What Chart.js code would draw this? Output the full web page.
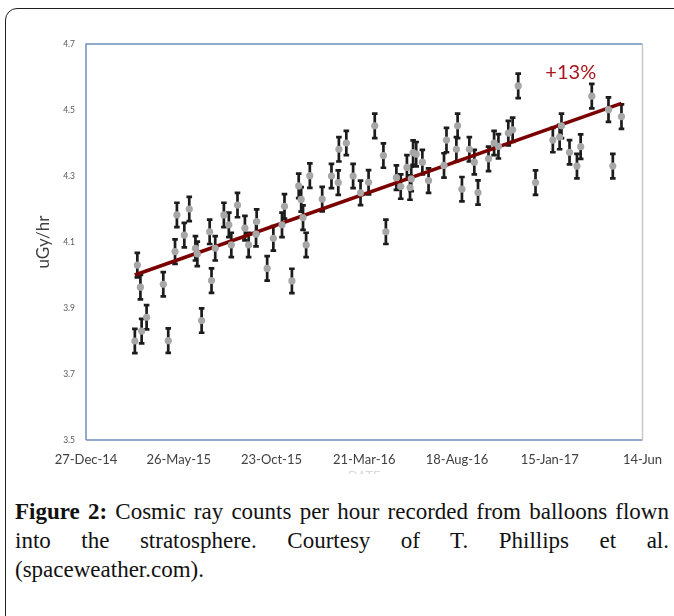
<!DOCTYPE html>
<html>
<head>
<meta charset="utf-8">
<script src="https://cdn.jsdelivr.net/npm/chart.js@4/dist/chart.umd.min.js"></script>
<style>
  html, body { margin: 0; padding: 0; background: #ffffff; }
  body { width: 674px; height: 616px; position: relative; overflow: hidden; }
  #frame { position: absolute; left: 5px; top: 8px; width: 720px; height: 700px;
           border: 1.5px solid #1f1f1f; border-radius: 12px; box-sizing: border-box; }
  #chartWrap { position: absolute; left: 0; top: 0; width: 674px; height: 474px; overflow: hidden; }
  #chartBox { position: relative; width: 674px; height: 490px; }
  #caption { position: absolute; left: 15px; top: 497px; width: 654px;
             font-family: "Liberation Serif", "Times New Roman", serif; font-size: 23px;
             line-height: 29px; color: #111; }
  #caption .j { text-align: justify; text-align-last: justify; white-space: nowrap; }
  #caption .l { text-align: left; white-space: nowrap; }
</style>
</head>
<body>
<div id="frame"></div>
<div id="chartWrap"><div id="chartBox"><canvas id="c"></canvas></div></div>
<div id="caption">
  <div class="j"><b>Figure 2:</b> Cosmic ray counts per hour recorded from balloons flown</div>
  <div class="j">into the stratosphere. Courtesy of T. Phillips et al.</div>
  <div class="l">(spaceweather.com).</div>
</div>
<script>
// ---- data (days since 27-Dec-2014, dose rate in uGy/hr) ----
const flightDay = [79,83,88,90,98,125,133,144,147,159,167,177,180,187,200,203,209,223,231,235,
  245,257,263,275,276,293,303,317,321,333,344,348,351,356,362,382,397,408,409,421,
  432,444,457,467,481,485,502,509,519,524,526,529,534,544,554,579,583,599,601,608,
  620,628,634,651,660,667,683,690,699,727,755,766,769,782,794,800,818,845,852,866];
const doseRate = [3.800,4.030,3.963,3.830,3.872,3.972,3.801,4.071,4.182,4.121,4.200,4.081,4.064,3.862,4.131,3.983,4.081,4.182,4.152,4.091,
  4.212,4.142,4.091,4.124,4.162,4.020,4.111,4.152,4.208,3.982,4.270,4.229,4.174,4.091,4.301,4.230,4.300,4.280,4.381,4.400,
  4.300,4.249,4.281,4.452,4.362,4.131,4.295,4.268,4.326,4.265,4.291,4.371,4.366,4.342,4.286,4.332,4.409,4.381,4.452,4.260,
  4.381,4.342,4.250,4.352,4.400,4.390,4.430,4.440,4.573,4.280,4.409,4.418,4.452,4.372,4.330,4.389,4.542,4.501,4.330,4.480];
const errorHalf = 0.037;
const trendDay = [79, 866];
const trendValue = [4.00, 4.52];
const trendLabel = '+13%';
const trendLabelAt = [784, 4.615];
const xTickDays = [0,150,300,450,600,750,900];
const xTickLabels = ['27-Dec-14','26-May-15','23-Oct-15','21-Mar-16','18-Aug-16','15-Jan-17','14-Jun'];
const yTickValues = [3.5,3.7,3.9,4.1,4.3,4.5,4.7];
const yTickLabels = ['3.5','3.7','3.9','4.1','4.3','4.5','4.7'];

const points = flightDay.map((d, i) => ({x: d, y: doseRate[i]}));
const trend = trendDay.map((d, i) => ({x: d, y: trendValue[i]}));

const errorBars = {
  id: 'errorBars',
  beforeDatasetsDraw(chart) {
    const xs = chart.scales.x, ys = chart.scales.y, ctx = chart.ctx;
    ctx.save();
    ctx.strokeStyle = '#1c1c1c';
    ctx.lineWidth = 2.7;
    points.forEach(p => {
      const px = xs.getPixelForValue(p.x);
      const top = ys.getPixelForValue(p.y + errorHalf);
      const bot = ys.getPixelForValue(p.y - errorHalf);
      ctx.beginPath();
      ctx.moveTo(px, top); ctx.lineTo(px, bot);
      ctx.moveTo(px - 2.8, top); ctx.lineTo(px + 2.8, top);
      ctx.moveTo(px - 2.8, bot); ctx.lineTo(px + 2.8, bot);
      ctx.stroke();
    });
    ctx.restore();
  }
};

const frameAndLabel = {
  id: 'frameAndLabel',
  afterDatasetsDraw(chart) {
    const {left, right, top, bottom} = chart.chartArea;
    const ctx = chart.ctx;
    ctx.save();
    ctx.lineWidth = 1.5;
    ctx.strokeStyle = '#6d8ebf';
    ctx.beginPath();
    ctx.moveTo(left, bottom); ctx.lineTo(left, top); ctx.lineTo(right, top);
    ctx.moveTo(left, bottom); ctx.lineTo(right, bottom);
    ctx.stroke();
    ctx.strokeStyle = '#c8c8c8';
    ctx.beginPath();
    ctx.moveTo(right, top); ctx.lineTo(right, bottom);
    ctx.stroke();
    const lx = chart.scales.x.getPixelForValue(trendLabelAt[0]);
    const ly = chart.scales.y.getPixelForValue(trendLabelAt[1]);
    ctx.fillStyle = '#a8161c';
    ctx.font = '20px Lato';
    ctx.textAlign = 'center';
    ctx.textBaseline = 'middle';
    ctx.fillText(trendLabel, lx, ly);
    ctx.restore();
  }
};

new Chart(document.getElementById('c'), {
  type: 'scatter',
  data: {
    datasets: [
      { type: 'line', label: 'trend', data: trend, borderColor: '#7a0000', borderWidth: 3.5,
        pointRadius: 0, fill: false, order: 2 },
      { label: 'dose', data: points, pointRadius: 3.6, pointHoverRadius: 3.6,
        backgroundColor: '#a7a7a7', borderWidth: 0, order: 1 }
    ]
  },
  options: {
    responsive: true,
    maintainAspectRatio: false,
    animation: false,
    events: [],
    layout: { padding: { top: 44, right: 26, left: 0, bottom: 0 } },
    plugins: { legend: { display: false }, tooltip: { enabled: false } },
    scales: {
      x: {
        type: 'linear', min: 0, max: 900,
        afterBuildTicks(s) { s.ticks = xTickDays.map(v => ({value: v})); },
        afterFit(s) { s.height = 50; },
        grid: { display: false, drawTicks: false },
        border: { display: false },
        ticks: { autoSkip: false, maxRotation: 0, padding: 12, color: '#404040',
                 font: { family: 'Lato', size: 13 },
                 callback: (v, i) => xTickLabels[i] },
        title: { display: true, text: 'DATE', color: '#dadada',
                 font: { family: 'Lato', size: 13 }, padding: { top: 0, bottom: 5 } }
      },
      y: {
        type: 'linear', min: 3.5, max: 4.7,
        afterBuildTicks(s) { s.ticks = yTickValues.map(v => ({value: v})); },
        afterFit(s) { s.width = 86; },
        grid: { display: false, drawTicks: false },
        border: { display: false },
        ticks: { padding: 11, color: '#595959', font: { family: 'Lato', size: 8.5 },
                 callback: (v, i) => yTickLabels[i] },
        title: { display: true, text: 'uGy/hr', color: '#404040',
                 font: { family: 'Lato', size: 17 }, padding: { top: 33, bottom: 0 } }
      }
    }
  },
  plugins: [errorBars, frameAndLabel]
});
</script>
</body>
</html>
